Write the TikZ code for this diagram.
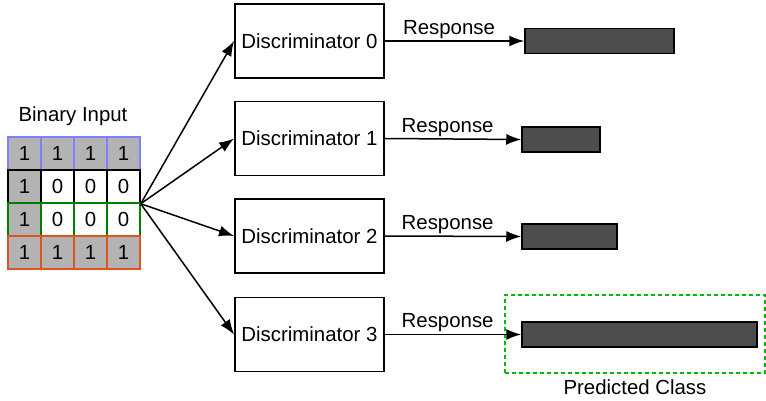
\documentclass[tikz,border=0pt]{standalone}
\usepackage{fontspec}
\setmainfont{Liberation Sans}
\usetikzlibrary{arrows.meta,positioning}

\definecolor{rowblue}{HTML}{8080FF}
\definecolor{rowgreen}{HTML}{007F00}
\definecolor{rowred}{HTML}{E0521E}
\definecolor{cellval1}{HTML}{B3B3B3}
\colorlet{cellval0}{white}
\definecolor{barfill}{HTML}{4D4D4D}
\definecolor{predgreen}{HTML}{00BB00}

\tikzset{
  cell/.style={rectangle,minimum size=16.5pt,inner sep=0pt,line width=0.75pt},
  disc/.style={draw,rectangle,minimum width=74.5pt,minimum height=37pt,line width=0.75pt},
  bar/.style={draw,rectangle,fill=barfill,minimum height=12.5pt,inner sep=0pt,line width=0.75pt},
  link/.style={-{Latex[length=7.5pt,width=5.5pt]},line width=0.75pt}
}

\begin{document}
\begin{tikzpicture}[x=0.5pt,y=-0.5pt,font=\fontsize{10.2}{12}\selectfont]
\useasboundingbox (0,0) rectangle (766,401);

% binary input grid
\foreach \r/\col/\vals in {1/rowblue/{1,1,1,1},2/black/{1,0,0,0},3/rowgreen/{1,0,0,0},4/rowred/{1,1,1,1}}{
  \foreach \v [count=\c] in \vals{
    \node (c-\r-\c) [cell,draw=\col,fill=cellval\v] at ({8+33*(\c-1)+16.5},{137+33*(\r-1)+16.5}) {\v};
  }
}
\node (title) at (73,116) {Binary Input};
\coordinate (src) at (c-2-4.south east);

% discriminators
\node (d0) [disc] at (309.5,41) {Discriminator 0};
\node (d1) [disc] at (309.5,138.5) {Discriminator 1};
\node (d2) [disc] at (309.5,236) {Discriminator 2};
\node (d3) [disc] at (309.5,334.5) {Discriminator 3};

% responses
\node (bar0) [bar,minimum width=74.5pt] at (599.5,41) {};
\node (bar1) [bar,minimum width=39pt] at (561,139.5) {};
\node (bar2) [bar,minimum width=47.5pt] at (569.5,236.5) {};
\node (bar3) [bar,minimum width=117.5pt] at (639.5,334.5) {};

\node (pred) [draw=predgreen,dash pattern=on 2pt off 1.5pt,line width=0.75pt,minimum width=130pt,minimum height=39pt,inner sep=0pt] at (635,334) {};
\node (predlabel) [below=-0.5pt of pred] {Predicted Class};

\foreach \k in {0,1,2,3}{
  \draw[link] (src) -- (d\k.west);
  \draw[link] (d\k.east) -- node[pos=0.46,above=-2.5pt] {Response} (bar\k.west);
}

\end{tikzpicture}
\end{document}
